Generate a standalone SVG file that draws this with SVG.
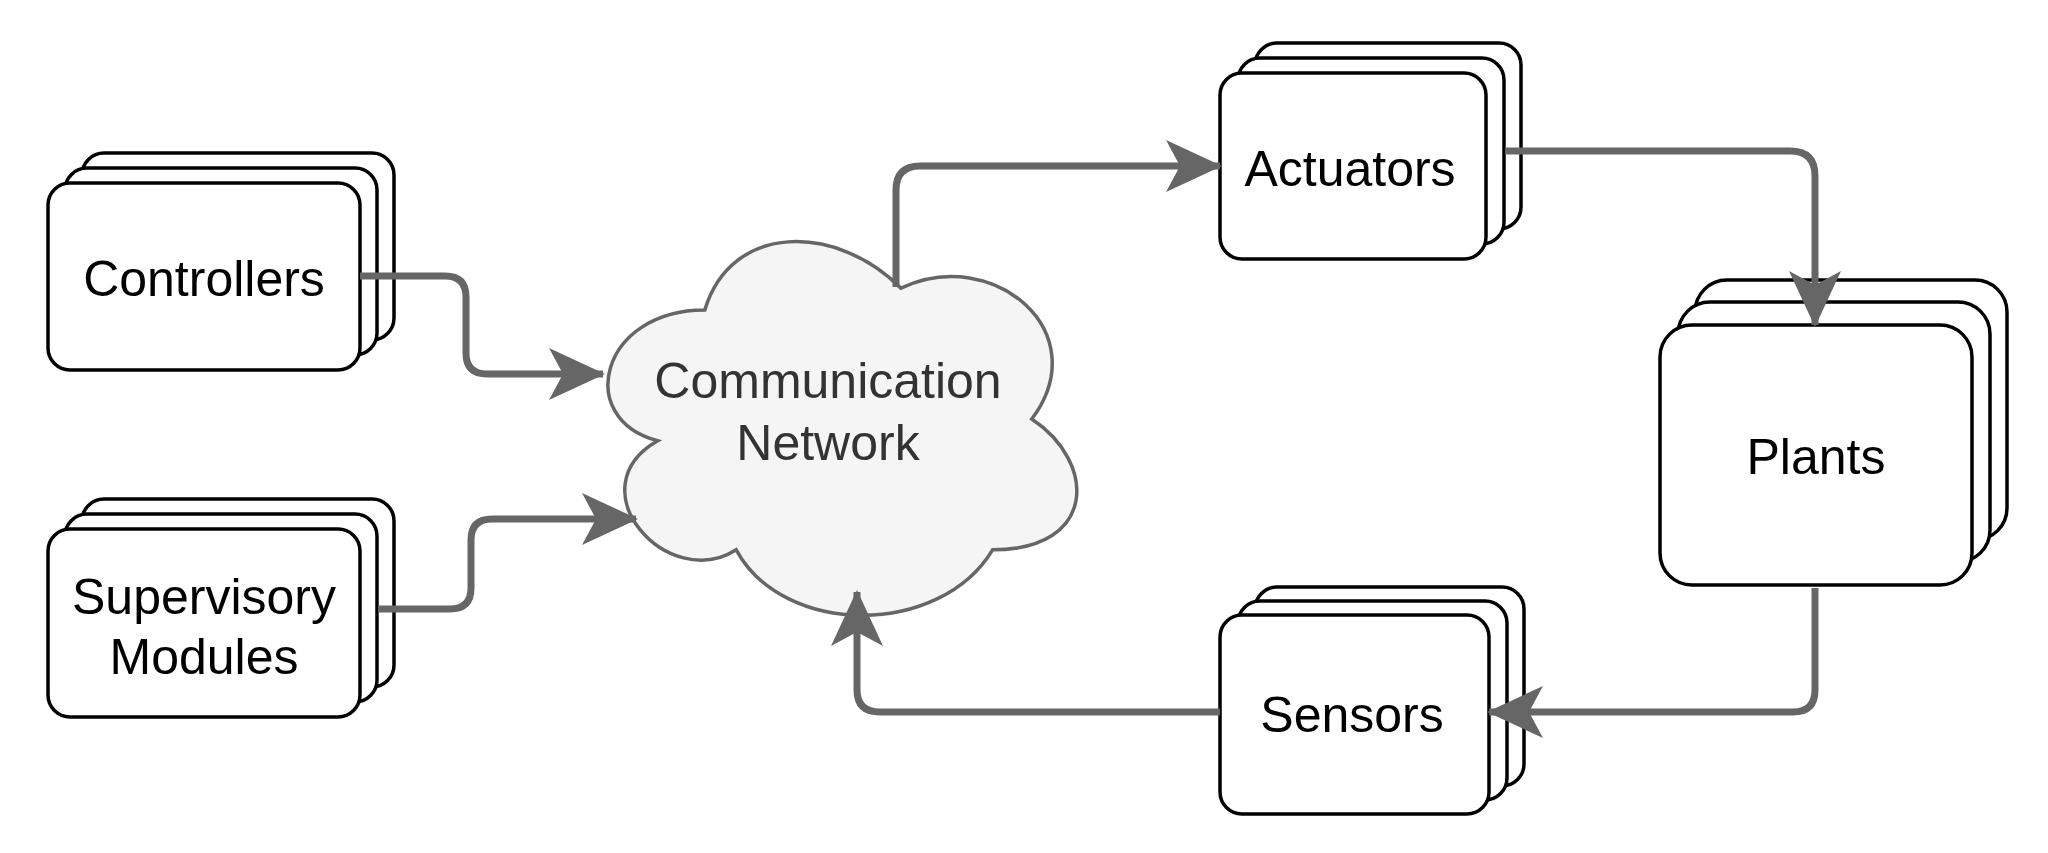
<svg xmlns="http://www.w3.org/2000/svg" width="2048" height="853" viewBox="0 0 2048 853">
<style>
.b{fill:#fff;stroke:#000;stroke-width:3.5}
.t{font-family:"Liberation Sans",Arial,sans-serif;font-size:50px;fill:#000;text-anchor:middle}
.c{fill:none;stroke:#666;stroke-width:7;marker-end:url(#a)}
</style>
<defs>
<marker id="a" markerUnits="userSpaceOnUse" markerWidth="56" markerHeight="56" viewBox="0 -28 56 56" refX="54" refY="0" orient="auto">
<path d="M0 -26 L56 0 L0 26 L14 0 Z" fill="#666"/>
</marker>
</defs>
<rect width="2048" height="853" fill="#fff"/>
<g id="controllers">
<rect class="b" x="82" y="153" width="312" height="187" rx="22"/>
<rect class="b" x="65" y="168" width="312" height="187" rx="22"/>
<rect class="b" x="48" y="183" width="312" height="187" rx="22"/>
<text class="t" x="204" y="296">Controllers</text>
</g>
<g id="supervisory">
<rect class="b" x="82" y="499" width="312" height="188" rx="22"/>
<rect class="b" x="65" y="514" width="312" height="188" rx="22"/>
<rect class="b" x="48" y="529" width="312" height="188" rx="22"/>
<text class="t" x="204" y="614">Supervisory</text>
<text class="t" x="204" y="674">Modules</text>
</g>
<g id="actuators">
<rect class="b" x="1255" y="43" width="266" height="186" rx="22"/>
<rect class="b" x="1238" y="58" width="266" height="186" rx="22"/>
<rect class="b" x="1220" y="73" width="266" height="186" rx="22"/>
<text class="t" x="1350" y="186">Actuators</text>
</g>
<g id="plants">
<rect class="b" x="1695" y="280" width="312" height="260" rx="32"/>
<rect class="b" x="1678" y="302" width="312" height="260" rx="32"/>
<rect class="b" x="1660" y="325" width="312" height="260" rx="32"/>
<text class="t" x="1816" y="474">Plants</text>
</g>
<g id="sensors">
<rect class="b" x="1255" y="587" width="269" height="199" rx="22"/>
<rect class="b" x="1238" y="601" width="269" height="199" rx="22"/>
<rect class="b" x="1220" y="615" width="269" height="199" rx="22"/>
<text class="t" x="1352" y="732">Sensors</text>
</g>
<g id="network">
<path transform="translate(574 201) scale(4.36 5.45)" vector-effect="non-scaling-stroke" fill="#f5f5f5" stroke="#666" stroke-width="3.5" d="M30 20 C6 20 0 40 19.2 44 C0 52.8 21.6 72 37.2 64 C48 80 84 80 96 64 C120 64 120 48 105 40 C120 24 96 8 75 16 C60 4 36 4 30 20 Z"/>
<text class="t" x="828" y="398" style="fill:#333">Communication</text>
<text class="t" x="828" y="460" style="fill:#333">Network</text>
</g>
<g id="connectors">
<path class="c" d="M360 276 H445 Q466 276 466 297 V353 Q466 374 487 374 H603"/>
<path class="c" d="M378 609 H450 Q471 609 471 588 V540 Q471 519 492 519 H636"/>
<path class="c" d="M896 287 V190 Q896 166 920 166 H1220"/>
<path class="c" d="M1505 151 H1790 Q1815 151 1815 176 V325"/>
<path class="c" d="M1815 588 V690 Q1815 712 1793 712 H1489"/>
<path class="c" d="M1220 712 H880 Q857 712 857 690 V592"/>
</g>
</svg>
